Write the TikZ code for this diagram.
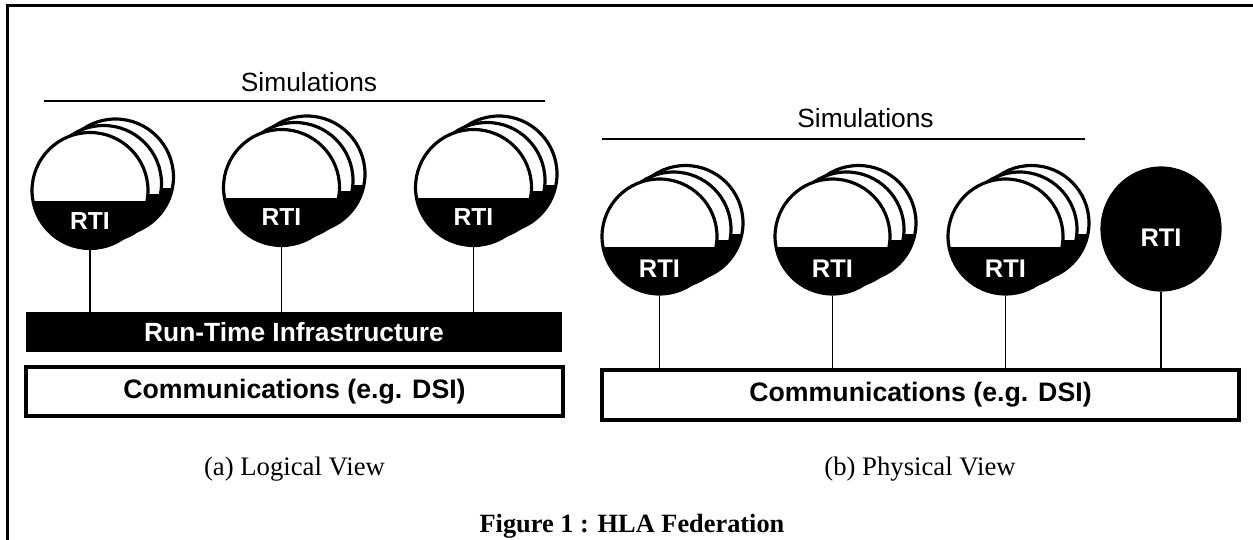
\documentclass[tikz,border=0pt]{standalone}
\usepackage{fontspec}
\setmainfont{Liberation Serif}
\setsansfont{Liberation Sans}
\usepackage{tikz}
\usetikzlibrary{shapes.geometric, positioning}

\tikzset{
  simdisc/.style={circle, draw, line width=1.8pt, fill=white, inner sep=0pt, minimum size=#1,
    path picture={\fill[black] ([yshift=-0.22cm]path picture bounding box.west) rectangle (path picture bounding box.south east);}},
  simdisc/.default=2.32cm,
  rtidisc/.style={ellipse, draw, fill=black, line width=1.8pt, inner sep=0pt, minimum width=2.36cm, minimum height=2.44cm},
  rtitext/.style={text=white, inner sep=0pt, anchor=base, font=\sffamily\bfseries\fontsize{#1}{#1}\selectfont},
  wire/.style={line width=1.1pt},
  commbox/.style={draw, line width=2.4pt, fill=white, inner sep=0pt, font=\sffamily\bfseries\fontsize{15.2}{17}\selectfont},
  simtext/.style={inner sep=0pt, anchor=base, font=\sffamily\fontsize{15}{17}\selectfont},
  captext/.style={inner sep=0pt, anchor=base, font=\fontsize{15.2}{17}\selectfont}
}

\begin{document}
\begin{tikzpicture}[x=0.02cm, y=-0.02cm]
\useasboundingbox (0,0) rectangle (1253,540);

\draw[line width=1.5pt] (7.5,540) -- (7.5,5.5) -- (1253,5.5);

\node[simtext] (simA) at (309,92) {Simulations};
\coordinate (simAl) at (44,101);
\coordinate (simAr) at (545,101);
\draw[wire] (simAl) -- (simAr);

\node[simdisc] (la1c) at (115.5,177) {};
\node[simdisc] (la1b) at (103.5,183.5) {};
\node[simdisc] (la1) at (90,190.5) {};
\node[rtitext=14] (la1t) at (90,230) {RTI};

\node[simdisc] (la2c) at (307,174) {};
\node[simdisc] (la2b) at (295,180.5) {};
\node[simdisc] (la2) at (281.5,187.5) {};
\node[rtitext=14] (la2t) at (281.5,225.5) {RTI};

\node[simdisc] (la3c) at (499,174) {};
\node[simdisc] (la3b) at (487,180.5) {};
\node[simdisc] (la3) at (473.5,187.5) {};
\node[rtitext=14] (la3t) at (473.5,225.5) {RTI};

\node[fill=black, text=white, minimum width=10.72cm, minimum height=0.8cm, inner sep=0pt,
  font=\sffamily\bfseries\fontsize{15}{17}\selectfont] (abar) at (294,332) {Run-Time Infrastructure};

\draw[wire] (la1) -- (la1 |- abar.north);
\draw[wire] (la2) -- (la2 |- abar.north);
\draw[wire] (la3) -- (la3 |- abar.north);

\node[commbox, minimum width=10.74cm, minimum height=0.98cm] (acomm) at (294.5,391.5) {Communications (e.g. DSI)};

\node[captext] (acap) at (294.5,475) {(a) Logical View};

\node[simtext] (simB) at (865.5,128) {Simulations};
\coordinate (simBl) at (602,139);
\coordinate (simBr) at (1085,139);
\draw[wire] (simBl) -- (simBr);

\node[simdisc=2.3cm] (pb1c) at (685.5,223) {};
\node[simdisc=2.3cm] (pb1b) at (673.5,229.5) {};
\node[simdisc=2.3cm] (pb1) at (659.5,236.5) {};
\node[rtitext=14.5] (pb1t) at (659.5,277) {RTI};

\node[simdisc=2.3cm] (pb2c) at (858.5,223) {};
\node[simdisc=2.3cm] (pb2b) at (846.5,229.5) {};
\node[simdisc=2.3cm] (pb2) at (832.5,236.5) {};
\node[rtitext=14.5] (pb2t) at (832.5,277) {RTI};

\node[simdisc=2.3cm] (pb3c) at (1031.5,223) {};
\node[simdisc=2.3cm] (pb3b) at (1019.5,229.5) {};
\node[simdisc=2.3cm] (pb3) at (1005.5,236.5) {};
\node[rtitext=14.5] (pb3t) at (1005.5,277) {RTI};

\node[rtidisc] (pb4) at (1161,229) {};
\node[rtitext=14.5] (pb4t) at (1161,247) {RTI};

\node[commbox, minimum width=12.74cm, minimum height=1.0cm] (bcomm) at (920.5,395) {Communications (e.g. DSI)};

\draw[wire] (pb1) -- (pb1 |- bcomm.north);
\draw[wire] (pb2) -- (pb2 |- bcomm.north);
\draw[wire] (pb3) -- (pb3 |- bcomm.north);
\draw[wire] (pb4) -- (pb4 |- bcomm.north);

\node[captext] (bcap) at (920,475) {(b) Physical View};

\node[captext, font=\bfseries\fontsize{15}{17}\selectfont] (figcap) at (632,532) {Figure 1 : HLA Federation};
\end{tikzpicture}
\end{document}
